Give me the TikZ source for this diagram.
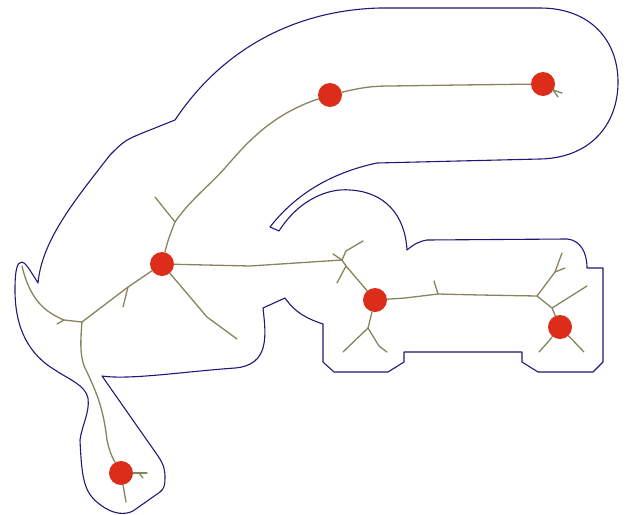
\documentclass[tikz,border=0pt]{standalone}
\begin{document}
\begin{tikzpicture}[x=1pt,y=-1pt,
  outline/.style={draw={rgb,255:red,40;green,20;blue,120},line width=1.1pt,line join=round},
  branch/.style={draw={rgb,255:red,135;green,132;blue,92},line width=1.3pt,line cap=round,line join=round},
  site/.style={circle,fill={rgb,255:red,220;green,44;blue,26},minimum size=24pt,inner sep=0pt}]
\useasboundingbox (0,0) rectangle (629,514);
% outline
\path[outline] (175,120) .. controls (225,45) and (300,10) .. (380,8) -- (540,8)
  .. controls (590,8) and (618,40) .. (618,82) .. controls (618,125) and (590,158) .. (540,159)
  -- (377,163) .. controls (330,173) and (295,195) .. (270,227) -- (279,231)
  .. controls (300,198) and (330,188) .. (350,190) .. controls (385,192) and (405,215) .. (407,250)
  .. controls (414,244) and (420,241) .. (427,240) -- (567,239)
  .. controls (580,240) and (587,252) .. (587,268) -- (603,268) -- (603,362) -- (593,372) -- (538,372)
  -- (522,362) -- (522,352) -- (404,352) -- (404,362) -- (388,372) -- (334,372) -- (323,362) -- (323,324)
  .. controls (305,318) and (295,312) .. (285,298) -- (263,308)
  .. controls (266,335) and (270,365) .. (235,368) .. controls (180,372) and (130,380) .. (102,376)
  -- (158,456) .. controls (164,465) and (165,470) .. (165,478) .. controls (165,485) and (164,489) .. (160,492) -- (133,511)
  .. controls (125,515) and (115,514) .. (105,508) .. controls (85,495) and (82,485) .. (80,440)
  .. controls (82,425) and (90,412) .. (88,398) .. controls (85,385) and (70,380) .. (55,370)
  .. controls (30,355) and (15,330) .. (15,290) .. controls (15,270) and (17,262) .. (22,262)
  .. controls (25,262) and (30,270) .. (38,283)
  .. controls (42,240) and (75,200) .. (110,155) .. controls (125,140) .. (150,130) -- cycle;
% branch points
\coordinate (f1) at (175,222);
\coordinate (f2) at (342,260);
\coordinate (f2b) at (346,266);
\coordinate (f3) at (537,296);
\coordinate (f4) at (552,308);
\coordinate (f5) at (368,328);
\coordinate (f6) at (82,322);
\coordinate (f7) at (128,287);
\coordinate (f8) at (555,272);
% sites
\node[site] (a) at (330,95) {};
\node[site] (b) at (543,84) {};
\node[site] (c) at (162,264) {};
\node[site] (d) at (375,300) {};
\node[site] (e) at (560,327) {};
\node[site] (g) at (121,473) {};
% tree
\path[branch] (c) .. controls (168,240) .. (f1) .. controls (190,200) and (210,185) .. (225,168)
  .. controls (245,145) and (270,115) .. (a);
\path[branch] (f1) -- (155,197);
\path[branch] (a) .. controls (360,88) and (370,86) .. (390,86) -- (460,85) -- (b);
\path[branch] (b) -- (553,90) -- (562,93);
\path[branch] (553,90) -- (558,97);
\path[branch] (c) -- (250,266) -- (f2);
\path[branch] (333,254) -- (f2);
\path[branch] (f2) -- (346,251) -- (363,241);
\path[branch] (f2) -- (f2b) -- (d);
\path[branch] (f2b) -- (337,283);
\path[branch] (d) -- (405,298) -- (438,294) -- (480,295) -- (f3);
\path[branch] (438,294) -- (434,281);
\path[branch] (f3) -- (f8) -- (562,253);
\path[branch] (f8) -- (565,268);
\path[branch] (f3) -- (f4) -- (e);
\path[branch] (f4) -- (587,286);
\path[branch] (e) -- (548,342) -- (539,352);
\path[branch] (e) -- (584,352);
\path[branch] (d) -- (f5) -- (343,352);
\path[branch] (f5) -- (379,346) -- (387,352);
\path[branch] (c) -- (207,317) -- (237,339);
\path[branch] (c) -- (f7) -- (f6);
\path[branch] (f7) -- (123,307);
\path[branch] (f6) -- (64,320) .. controls (45,312) and (30,300) .. (22,266);
\path[branch] (64,320) -- (57,324);
\path[branch] (f6) .. controls (80,345) and (80,360) .. (87,372) .. controls (95,390) and (103,405) .. (107,440)
  .. controls (110,455) and (115,462) .. (g);
\path[branch] (g) -- (126,502);
\path[branch] (g) -- (147,473);
\path[branch] (139,473) -- (143,478);
\end{tikzpicture}
\end{document}
